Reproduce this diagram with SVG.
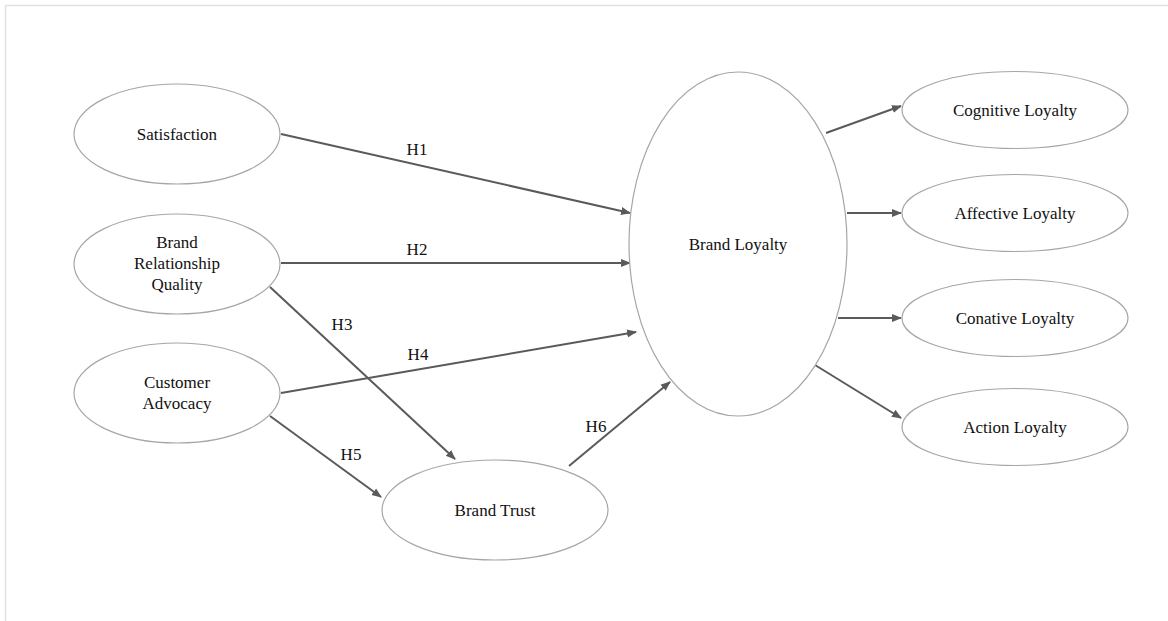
<svg xmlns="http://www.w3.org/2000/svg" width="1168" height="621" viewBox="0 0 1168 621">
  <style>
    .node ellipse { fill: #ffffff; stroke: #a6a6a6; stroke-width: 1.2; }
    .node text, .lbl { font-family: "Liberation Serif", "Times New Roman", serif; font-size: 17px; fill: #111111; text-anchor: middle; }
    .edge { stroke: #5a5a5a; stroke-width: 2; fill: none; marker-end: url(#arrow); }
  </style>
  <defs>
    <marker id="arrow" viewBox="0 0 10 10" refX="9" refY="5" markerWidth="5" markerHeight="5" markerUnits="strokeWidth" orient="auto">
      <path d="M0,1 L10,5 L0,9 Z" fill="#5a5a5a"/>
    </marker>
  </defs>

  <rect width="1168" height="621" fill="#ffffff"/>
  <!-- page frame -->
  <path d="M5.5,621 V5.5 H1168" fill="none" stroke="#e2e2e2" stroke-width="1.5"/>

  <g id="connectors">
    <line class="edge" x1="281" y1="134" x2="630" y2="213"/>
    <line class="edge" x1="281" y1="263" x2="630" y2="263"/>
    <line class="edge" x1="270" y1="287" x2="455" y2="459"/>
    <line class="edge" x1="281" y1="393" x2="636" y2="332"/>
    <line class="edge" x1="270" y1="416" x2="381" y2="497"/>
    <line class="edge" x1="569" y1="466" x2="670" y2="382"/>
    <line class="edge" x1="826" y1="133" x2="901" y2="106"/>
    <line class="edge" x1="847" y1="213" x2="901" y2="213"/>
    <line class="edge" x1="838" y1="318" x2="901" y2="318"/>
    <line class="edge" x1="815" y1="365" x2="901" y2="418"/>
    <text class="lbl" x="417" y="155">H1</text>
    <text class="lbl" x="417" y="255">H2</text>
    <text class="lbl" x="342" y="330">H3</text>
    <text class="lbl" x="418" y="360">H4</text>
    <text class="lbl" x="351" y="460">H5</text>
    <text class="lbl" x="596" y="432">H6</text>
  </g>

  <g id="satisfaction" class="node">
    <ellipse cx="177" cy="134" rx="103" ry="50"/>
    <text x="177" y="140">Satisfaction</text>
  </g>
  <g id="brand-relationship-quality" class="node">
    <ellipse cx="177" cy="264" rx="103" ry="50"/>
    <text x="177" y="248">Brand</text>
    <text x="177" y="269">Relationship</text>
    <text x="177" y="290">Quality</text>
  </g>
  <g id="customer-advocacy" class="node">
    <ellipse cx="177" cy="393" rx="103" ry="50"/>
    <text x="177" y="388">Customer</text>
    <text x="177" y="409">Advocacy</text>
  </g>
  <g id="brand-trust" class="node">
    <ellipse cx="495" cy="510" rx="113" ry="50"/>
    <text x="495" y="516">Brand Trust</text>
  </g>
  <g id="brand-loyalty" class="node">
    <ellipse cx="738" cy="244" rx="109" ry="172"/>
    <text x="738" y="250">Brand Loyalty</text>
  </g>
  <g id="cognitive-loyalty" class="node">
    <ellipse cx="1015" cy="110" rx="113" ry="38.5"/>
    <text x="1015" y="116">Cognitive Loyalty</text>
  </g>
  <g id="affective-loyalty" class="node">
    <ellipse cx="1015" cy="213" rx="113" ry="38.5"/>
    <text x="1015" y="219">Affective Loyalty</text>
  </g>
  <g id="conative-loyalty" class="node">
    <ellipse cx="1015" cy="318" rx="113" ry="38.5"/>
    <text x="1015" y="324">Conative Loyalty</text>
  </g>
  <g id="action-loyalty" class="node">
    <ellipse cx="1015" cy="427" rx="113" ry="38.5"/>
    <text x="1015" y="433">Action Loyalty</text>
  </g>
</svg>
